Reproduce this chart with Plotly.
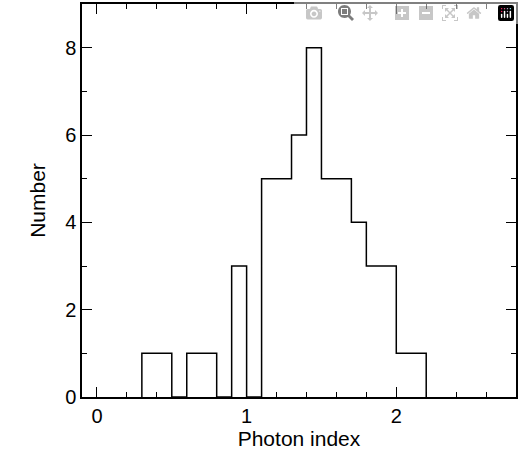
import plotly.graph_objects as go

bin_edges = [0.3, 0.5, 0.6, 0.8, 0.9, 1.0, 1.1, 1.3, 1.4, 1.5, 1.7, 1.8, 2.0, 2.2]
counts = [1, 0, 1, 0, 3, 0, 5, 6, 8, 5, 4, 3, 1]

xs = [bin_edges[0]] + bin_edges
ys = [0] + counts + [0]

fig = go.Figure(go.Scatter(x=xs, y=ys, mode="lines", line=dict(shape="hv", color="black", width=1.5),
                           showlegend=False, hoverinfo="skip"))

axis_common = dict(showgrid=False, zeroline=False, showline=True, linecolor="black", linewidth=1.5,
                   mirror="allticks", ticks="inside", ticklen=10, tickwidth=1.2, tickcolor="black",
                   tickfont=dict(family="Liberation Sans, Arial", size=20, color="black"))

fig.update_xaxes(range=[-0.1, 2.8], tickvals=[0, 1, 2], ticktext=["0", "1", "2"],
                 minor=dict(dtick=0.2, tick0=0, ticks="inside", ticklen=5, tickcolor="black", tickwidth=1.2),
                 title=dict(text="Photon index", font=dict(family="Liberation Sans, Arial", size=21, color="black"), standoff=6),
                 **axis_common)
fig.update_yaxes(range=[0, 9], tickvals=[0, 2, 4, 6, 8],
                 minor=dict(dtick=1, tick0=0, ticks="inside", ticklen=5, tickcolor="black", tickwidth=1.2),
                 title=dict(text="Number", font=dict(family="Liberation Sans, Arial", size=21, color="black"), standoff=14),
                 **axis_common)

fig.update_layout(width=520, height=457, margin=dict(l=82, r=3, t=2, b=60),
                  plot_bgcolor="white", paper_bgcolor="white")
fig.write_html("out.html", post_script="document.body.style.margin='0';")
